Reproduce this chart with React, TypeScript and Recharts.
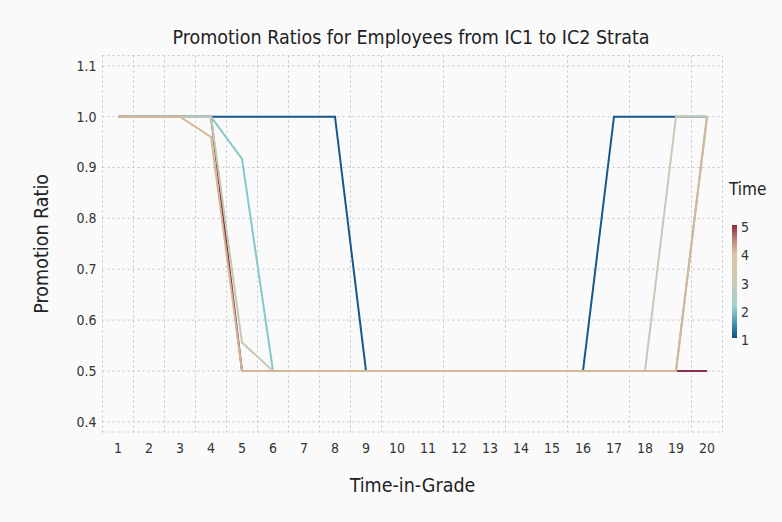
import React from 'react';
import { LineChart, Line, XAxis, YAxis, CartesianGrid, Label } from 'recharts';

const timeInGrade = [1, 2, 3, 4, 5, 6, 7, 8, 9, 10, 11, 12, 13, 14, 15, 16, 17, 18, 19, 20];
const time1 = [1, 1, 1, 1, 1, 1, 1, 1, 0.5, 0.5, 0.5, 0.5, 0.5, 0.5, 0.5, 0.5, 1, 1, 1, 1];
const time2 = [1, 1, 1, 1, 0.917, 0.5, 0.5, 0.5, 0.5, 0.5, 0.5, 0.5, 0.5, 0.5, 0.5, 0.5, 0.5, 0.5, 0.5, 1];
const time3 = [1, 1, 1, 1, 0.556, 0.5, 0.5, 0.5, 0.5, 0.5, 0.5, 0.5, 0.5, 0.5, 0.5, 0.5, 0.5, 0.5, 1, 1];
const time4 = [1, 1, 1, 0.96, 0.5, 0.5, 0.5, 0.5, 0.5, 0.5, 0.5, 0.5, 0.5, 0.5, 0.5, 0.5, 0.5, 0.5, 0.5, 1];
const time5 = [1, 1, 1, 1, 0.5, 0.5, 0.5, 0.5, 0.5, 0.5, 0.5, 0.5, 0.5, 0.5, 0.5, 0.5, 0.5, 0.5, 0.5, 0.5];
const yTicks = [0.4, 0.5, 0.6, 0.7, 0.8, 0.9, 1.0, 1.1];
const gridX = [1.5, 2.5, 3.5, 4.5, 5.5, 6.5, 7.5, 8.5, 9.5, 10.5, 11.5, 12.5, 13.5, 14.5, 15.5, 16.5, 17.5, 18.5, 19.5];
const colorbarTicks = [5, 4, 3, 2, 1];

const data = timeInGrade.map((x, i) => ({
  x,
  t1: time1[i],
  t2: time2[i],
  t3: time3[i],
  t4: time4[i],
  t5: time5[i],
}));

const FONT = '"DejaVu Sans Condensed", "DejaVu Sans", sans-serif';
const BG = '#fafafa';
const TXT = '#333';

export default function App() {
  return (
    <div style={{ position: 'absolute', left: 0, top: 0, width: 782, height: 522, background: BG, fontFamily: FONT }}>
      <div style={{ position: 'absolute', left: 20, width: 782, top: 26, textAlign: 'center', fontSize: 19.5, color: '#222', lineHeight: '24px', whiteSpace: 'nowrap' }}>
        Promotion Ratios for Employees from IC1 to IC2 Strata
      </div>
      <LineChart
        width={782}
        height={522}
        data={data}
        margin={{ top: 55.6, right: 59.5, bottom: 60, left: 42.5 }}
        style={{ position: 'absolute', left: 0, top: 0 }}
      >
        <CartesianGrid xAxisId="grid" stroke="#c4c4c4" strokeDasharray="2 3" />
        <XAxis
          xAxisId="grid"
          dataKey="x"
          type="number"
          domain={[0.5, 20.5]}
          ticks={gridX}
          hide
          allowDataOverflow
        />
        <XAxis
          dataKey="x"
          type="number"
          domain={[0.5, 20.5]}
          ticks={timeInGrade}
          interval={0}
          allowDataOverflow
          axisLine={false}
          tickLine={false}
          tickSize={0}
          tickMargin={11}
          height={30}
          tick={{ fontSize: 14, fill: TXT, fontFamily: FONT }}
        >
          <Label value="Time-in-Grade" position="bottom" offset={16} style={{ fontSize: 19.5, fill: '#222', fontFamily: FONT }} />
        </XAxis>
        <YAxis
          type="number"
          domain={[0.38, 1.12]}
          ticks={yTicks}
          allowDataOverflow
          axisLine={false}
          tickLine={false}
          tickSize={0}
          tickMargin={6}
          width={60}
          tickFormatter={(v: number) => v.toFixed(1)}
          tick={{ fontSize: 14, fill: TXT, fontFamily: FONT }}
        >
          <Label value="Promotion Ratio" angle={-90} position="insideLeft" offset={-1} style={{ fontSize: 19.5, fill: '#222', fontFamily: FONT, textAnchor: 'middle' }} />
        </YAxis>
        <Line type="linear" dataKey="t5" stroke="#8c2f4a" strokeWidth={2} dot={false} isAnimationActive={false} />
        <Line type="linear" dataKey="t1" stroke="#17588c" strokeWidth={2} dot={false} isAnimationActive={false} />
        <Line type="linear" dataKey="t2" stroke="#86c8c8" strokeWidth={2} dot={false} isAnimationActive={false} />
        <Line type="linear" dataKey="t3" stroke="#c3cbb6" strokeWidth={2} dot={false} isAnimationActive={false} />
        <Line type="linear" dataKey="t4" stroke="#d4b896" strokeWidth={2} dot={false} isAnimationActive={false} />
      </LineChart>
      <div style={{ position: 'absolute', left: 729, top: 179, fontSize: 17, color: '#222' }}>Time</div>
      <div
        style={{
          position: 'absolute',
          left: 732,
          top: 225,
          width: 5,
          height: 113,
          background:
            'linear-gradient(to bottom, #86263f 0%, #c08a7c 14%, #dcc4a4 25%, #cccbb6 50%, #9fd1cf 72%, #4a98b0 86%, #0e4f86 100%)',
        }}
      />
      {colorbarTicks.map((t, i) => (
        <div
          key={t}
          style={{ position: 'absolute', left: 741, top: 227 + (i * 113) / 4 - 9, fontSize: 14, color: TXT, lineHeight: '18px' }}
        >
          {t}
        </div>
      ))}
    </div>
  );
}
